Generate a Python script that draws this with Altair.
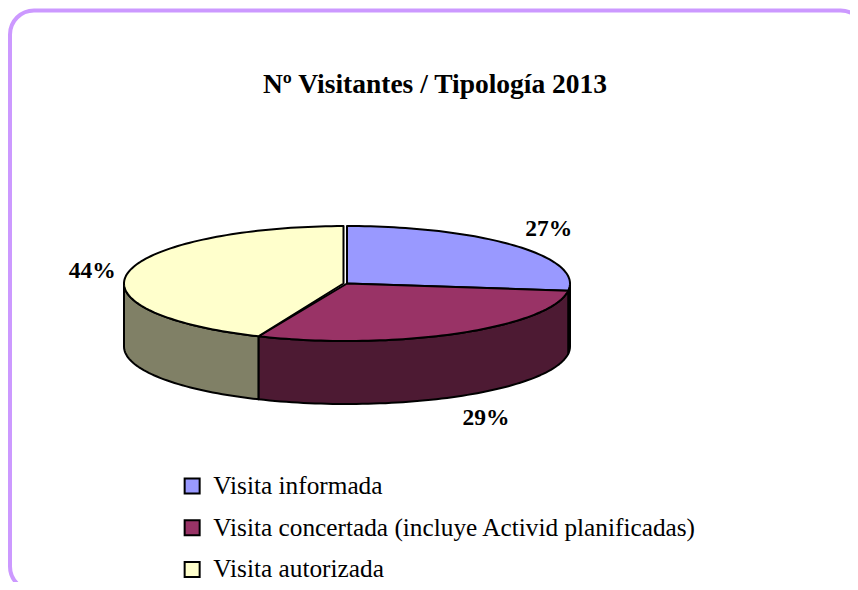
import math
import altair as alt

TITLE = "Nº Visitantes / Tipología 2013"
CATEGORIES = ["Visita informada", "Visita concertada (incluye Activid planificadas)", "Visita autorizada"]
VALUES = [27.0, 29.5, 43.5]
LABELS = ["27%", "29%", "44%"]
TOP_COLORS = ["#9999FF", "#993366", "#FFFFCC"]
SIDE_COLORS = ["#4D4D80", "#4D1A33", "#808066"]
LABEL_OFFSETS = [(34.5, -16), (28.5, 85), (-36.5, -1)]

FONT = "Liberation Serif"
W, H = 842, 574
CX, CY, RX, RY, DEPTH = 339.0, 275.5, 223.0, 57.5, 63.0


def pt(t, dy=0.0, cx=CX):
    a = math.radians(t)
    return [cx + RX * math.sin(a), CY - RY * math.cos(a) + dy]


def arc(t0, t1, dy=0.0, cx=CX):
    n = max(2, int(abs(t1 - t0) / 1.5))
    return [pt(t0 + (t1 - t0) * i / n, dy, cx) for i in range(n + 1)]


def feature(points, name):
    ring = points + [points[0]]
    return {"type": "Feature", "geometry": {"type": "Polygon", "coordinates": [ring]},
            "properties": {"name": name}}


total = sum(VALUES)
bounds = [0.0]
for v in VALUES:
    bounds.append(bounds[-1] + v / total * 360)

tops, sides, labels = [], [], []
for i, name in enumerate(CATEGORIES):
    t0, t1 = bounds[i], bounds[i + 1]
    gap = 3.5 if i == len(CATEGORIES) - 1 else 0.0
    if gap:
        top = arc(t0, t1 - 1.0, cx=CX) + [[CX - gap, CY - RY], [CX - gap, CY]]
    else:
        top = arc(t0, t1) + [[CX, CY]]
    tops.append(feature(top, name))
    s0, s1 = max(t0, 90.0), min(t1, 270.0)
    if s1 > s0:
        upper = arc(s0, s1)
        lower = arc(s1, s0, DEPTH)
        sides.append(feature(upper + lower, name))
    mid = (t0 + t1) / 2
    ax, ay = pt(mid)
    labels.append({"x": ax + LABEL_OFFSETS[i][0], "y": ay + LABEL_OFFSETS[i][1], "label": LABELS[i]})

proj = alt.Projection(type="identity", scale=1, translate=[0, 0])


def geo(features):
    return alt.Data(values=features)


frame = alt.Chart(alt.Data(values=[{"a": 1}])).mark_rect(
    fill="white", stroke="#CC99FF", strokeWidth=4, cornerRadius=24
).encode(x=alt.value(2), x2=alt.value(856.6), y=alt.value(2.5), y2=alt.value(582.5))

color = alt.Color(
    "properties.name:N",
    scale=alt.Scale(domain=CATEGORIES, range=TOP_COLORS),
    sort=CATEGORIES,
    legend=alt.Legend(
        orient="none", legendX=171.5, legendY=465.4, title=None, symbolType="square",
        symbolSize=225, symbolStrokeColor="black", symbolStrokeWidth=2,
        labelFont=FONT, labelFontSize=25.3, labelColor="black", labelLimit=600,
        rowPadding=15.7, labelOffset=8.5,
    ),
)

side_layer = alt.Chart(geo(sides)).mark_geoshape(stroke="black", strokeWidth=2, strokeJoin="round").encode(
    fill=alt.Fill("properties.name:N", scale=alt.Scale(domain=CATEGORIES, range=SIDE_COLORS), legend=None)
).project(**proj.to_dict())

top_layer = alt.Chart(geo(tops)).mark_geoshape(stroke="black", strokeWidth=2, strokeJoin="round").encode(
    color=color
).project(**proj.to_dict())

label_layer = alt.Chart(alt.Data(values=labels)).mark_text(
    font=FONT, fontSize=23.5, fontWeight="bold", color="black", baseline="middle", align="center"
).encode(x=alt.X("x:Q", scale=None), y=alt.Y("y:Q", scale=None), text="label:N")

chart = (
    alt.layer(frame, side_layer, top_layer, label_layer)
    .resolve_scale(fill="independent", color="independent")
    .properties(
        width=W, height=H, padding=0,
        autosize=alt.AutoSizeParams(type="none"),
        background="white",
        title=alt.TitleParams(TITLE, font=FONT, fontSize=27.5, fontWeight="bold", color="black",
                              anchor="middle", dy=94, dx=6),
    )
    .configure_view(stroke=None)
)
chart.save("out.html", embed_options={"renderer": "svg", "actions": False})
